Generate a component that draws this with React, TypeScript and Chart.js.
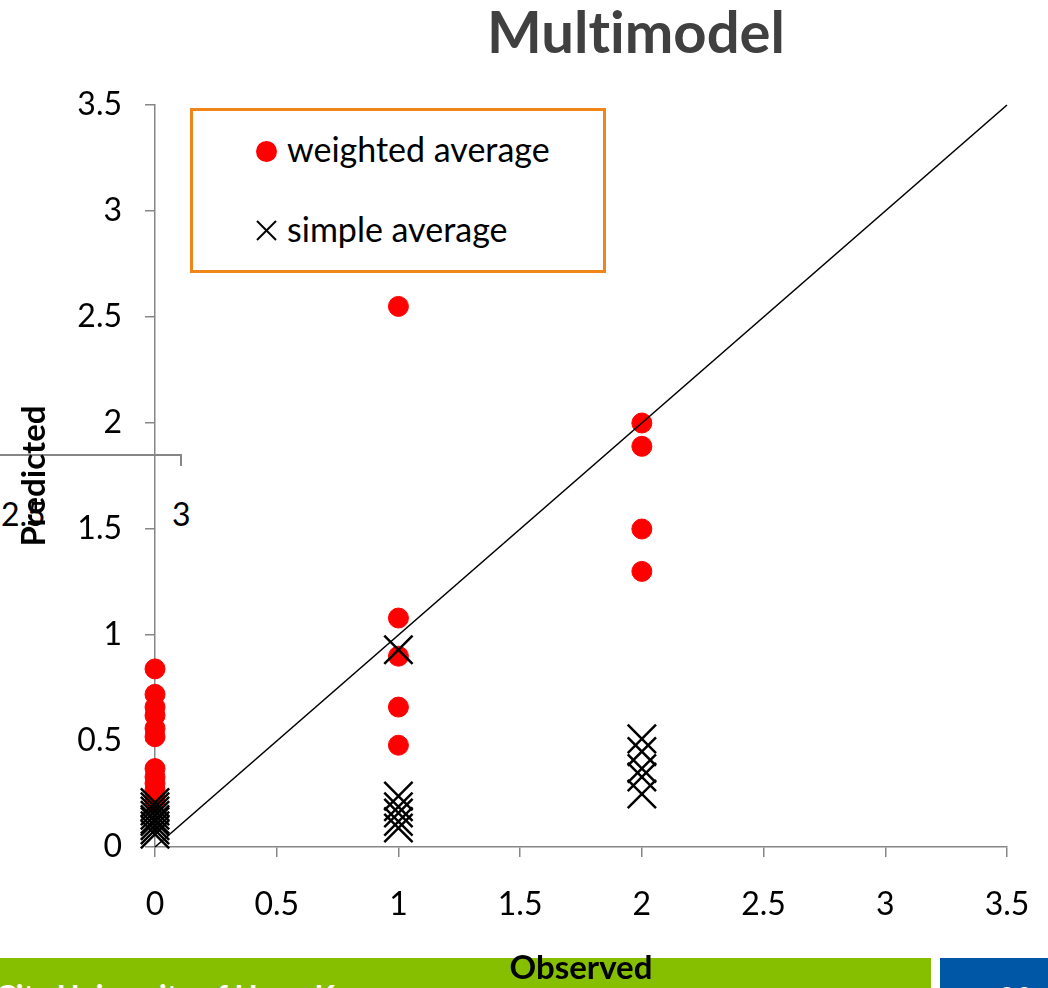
import React, { useEffect, useRef } from "react";
import { Chart, registerables } from "chart.js";

Chart.register(...registerables);

// Observed levels (x) and predicted values (y)
const observedLevels = [0, 1, 2];
const weightedAtObs0 = [0.84, 0.72, 0.66, 0.62, 0.56, 0.52, 0.37, 0.33, 0.3, 0.27, 0.24, 0.21];
const weightedAtObs1 = [2.55, 1.08, 0.9, 0.66, 0.48];
const weightedAtObs2 = [2.0, 1.89, 1.5, 1.3];
const simpleAtObs0 = [0.21, 0.19, 0.17, 0.15, 0.13, 0.12, 0.1, 0.08, 0.06];
const simpleAtObs1 = [0.93, 0.24, 0.19, 0.16, 0.12, 0.09];
const simpleAtObs2 = [0.51, 0.45, 0.37, 0.33, 0.25];
const diagonalEnds = [0, 3.5];
const axisMin = 0;
const axisMax = 3.5;
const axisStep = 0.5;

const FONT = "Lato";
const AXIS_GRAY = "#868686";

function toPoints(levels: number[], groups: number[][]) {
  const pts: { x: number; y: number }[] = [];
  levels.forEach((lv, i) => groups[i].forEach((v) => pts.push({ x: lv, y: v })));
  return pts;
}

const tickText = (v: any) => String(Number(v));

export default function App() {
  const ref = useRef<HTMLCanvasElement>(null);

  useEffect(() => {
    const weightedPts = toPoints(observedLevels, [weightedAtObs0, weightedAtObs1, weightedAtObs2]);
    const simplePts = toPoints(observedLevels, [simpleAtObs0, simpleAtObs1, simpleAtObs2]);
    const diag = diagonalEnds.map((v) => ({ x: v, y: v }));

    const chart = new Chart(ref.current as HTMLCanvasElement, {
      type: "scatter",
      data: {
        datasets: [
          {
            type: "line",
            label: "y = x",
            data: diag,
            borderColor: "#000000",
            borderWidth: 1.6,
            pointRadius: 0,
            fill: false,
            clip: false,
            order: 0,
          } as any,
          {
            label: "simple average",
            data: simplePts,
            pointStyle: "crossRot",
            pointRadius: 20,
            borderColor: "#000000",
            backgroundColor: "#000000",
            borderWidth: 2.5,
            clip: false,
            order: 1,
          },
          {
            label: "weighted average",
            data: weightedPts,
            pointStyle: "circle",
            pointRadius: 10,
            borderColor: "#FF0000",
            backgroundColor: "#FF0000",
            borderWidth: 1,
            clip: false,
            order: 2,
          },
        ],
      },
      options: {
        responsive: false,
        animation: false,
        devicePixelRatio: 1,
        layout: { padding: { top: 105, right: 41, left: 0, bottom: 0 } },
        plugins: {
          legend: { display: false },
          tooltip: { enabled: false },
          title: { display: false },
        },
        scales: {
          x: {
            type: "linear",
            min: axisMin,
            max: axisMax,
            ticks: {
              stepSize: axisStep,
              color: "#000000",
              font: { family: FONT, size: 32 },
              padding: 28,
              maxRotation: 0,
              autoSkip: false,
              callback: tickText,
            },
            grid: {
              drawOnChartArea: false,
              drawTicks: true,
              tickLength: 10,
              color: AXIS_GRAY,
              lineWidth: 1.5,
            },
            border: { display: true, color: AXIS_GRAY, width: 1.5 },
            title: {
              display: true,
              text: "Observed",
              color: "#000000",
              font: { family: FONT, size: 33, weight: "bold" },
              padding: 0,
            },
            afterFit: (s: any) => {
              s.height = 141;
              s.paddingLeft = 0;
              s.paddingRight = 0;
            },
          },
          y: {
            type: "linear",
            min: axisMin,
            max: axisMax,
            ticks: {
              stepSize: axisStep,
              color: "#000000",
              font: { family: FONT, size: 32 },
              padding: 23,
              autoSkip: false,
              callback: tickText,
            },
            grid: {
              drawOnChartArea: false,
              drawTicks: true,
              tickLength: 10,
              color: AXIS_GRAY,
              lineWidth: 1.5,
            },
            border: { display: true, color: AXIS_GRAY, width: 1.5 },
            title: {
              display: true,
              text: "Predicted",
              color: "#000000",
              font: { family: FONT, size: 33, weight: "bold" },
              padding: { top: 15, bottom: 0 },
            },
            afterFit: (s: any) => {
              s.width = 155;
              s.paddingTop = 0;
              s.paddingBottom = 0;
            },
          },
        },
      },
    });
    return () => chart.destroy();
  }, []);

  const abs = (o: React.CSSProperties): React.CSSProperties => ({ position: "absolute", ...o });

  return (
    <div
      style={{
        position: "fixed",
        left: 0,
        top: 0,
        width: 1048,
        height: 988,
        overflow: "hidden",
        background: "#ffffff",
        fontFamily: FONT,
        fontVariantLigatures: "none",
      }}
    >
      {/* background slide pieces */}
      <div style={abs({ left: 0, top: 958, width: 931, height: 30, background: "#86BF00", overflow: "hidden" })}>
        <div
          style={abs({
            left: -4,
            top: 22,
            whiteSpace: "nowrap",
            color: "#ffffff",
            fontWeight: "bold",
            fontSize: 30,
            lineHeight: "30px",
          })}
        >
          City University of Hong Kong
        </div>
      </div>
      <div style={abs({ left: 940, top: 958, width: 108, height: 30, background: "#0057A6", overflow: "hidden" })}>
        <div style={abs({ left: 58, top: 24, color: "#ffffff", fontSize: 30, lineHeight: "30px" })}>20</div>
      </div>
      {/* stray axis fragment from the slide behind */}
      <div style={abs({ left: 0, top: 454, width: 182, height: 1.5, background: AXIS_GRAY })} />
      <div style={abs({ left: 180, top: 455, width: 1.5, height: 11, background: AXIS_GRAY })} />
      <div style={abs({ left: 1, top: 498, fontSize: 32, lineHeight: "32px", color: "#000" })}>2.5</div>
      <div style={abs({ left: 172, top: 498, fontSize: 32, lineHeight: "32px", color: "#000" })}>3</div>

      <canvas ref={ref} width={1048} height={988} style={abs({ left: 0, top: 0, width: 1048, height: 988 })} />

      {/* chart title */}
      <div
        style={abs({
          left: 386,
          top: 2,
          width: 500,
          textAlign: "center",
          fontSize: 58,
          lineHeight: "58px",
          fontWeight: "bold",
          color: "#404040",
          fontVariantLigatures: "none",
        })}
      >
        Multimodel
      </div>

      {/* legend */}
      <div
        style={abs({
          left: 190,
          top: 108,
          width: 410,
          height: 159,
          border: "3px solid #F0861A",
          background: "#ffffff",
        })}
      >
        <div style={abs({ left: 63, top: 30, width: 21, height: 21, borderRadius: "50%", background: "#FF0000" })} />
        <div style={abs({ left: 94, top: 20, fontSize: 34, lineHeight: "36px", color: "#000", whiteSpace: "nowrap" })}>
          weighted average
        </div>
        <svg style={abs({ left: 63, top: 109 })} width={21} height={21} viewBox="0 0 21 21">
          <line x1={1} y1={1} x2={20} y2={20} stroke="#000" strokeWidth={2} />
          <line x1={20} y1={1} x2={1} y2={20} stroke="#000" strokeWidth={2} />
        </svg>
        <div style={abs({ left: 94, top: 100, fontSize: 34, lineHeight: "36px", color: "#000", whiteSpace: "nowrap" })}>
          simple average
        </div>
      </div>
    </div>
  );
}
